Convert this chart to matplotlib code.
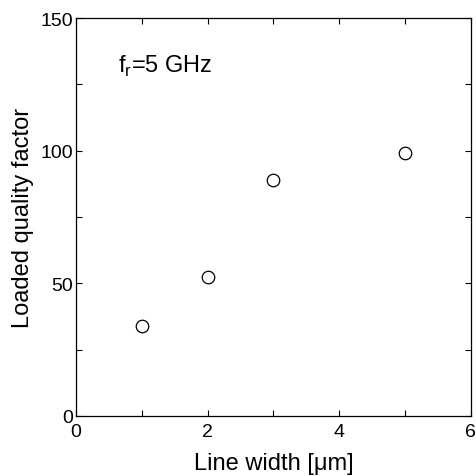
import numpy as np
import matplotlib.pyplot as plt
from matplotlib.ticker import MultipleLocator

plt.rcParams['font.family'] = ['Liberation Sans', 'DejaVu Sans']

# data
line_width = [1, 2, 3, 5]
q_loaded = [33.8, 52.3, 88.9, 99.2]

fig = plt.figure(figsize=(4.76, 4.77), dpi=100)
ax = fig.add_axes([0.160, 0.126, 0.829, 0.834])

ax.plot(line_width, q_loaded, 'o', mfc='white', mec='black', ms=9, mew=0.9)

ax.set_xlim(0, 6)
ax.set_ylim(0, 150)
ax.xaxis.set_major_locator(MultipleLocator(2))
ax.xaxis.set_minor_locator(MultipleLocator(1))
ax.yaxis.set_major_locator(MultipleLocator(50))
ax.yaxis.set_minor_locator(MultipleLocator(25))
ax.tick_params(which='both', direction='in', top=True, right=True, labelsize=14, width=0.8, length=4)
ax.tick_params(axis='x', pad=5)
ax.tick_params(axis='y', pad=2)
for s in ax.spines.values():
    s.set_linewidth(0.9)

ax.set_xlabel('Line width [\u03bcm]', fontsize=17, labelpad=9)
ax.set_ylabel('Loaded quality factor', fontsize=17, labelpad=5)
ax.text(0.64, 132, r'f$_\mathregular{r}$=5 GHz', fontsize=17, va='center')

fig.savefig('out.png', dpi=100)
